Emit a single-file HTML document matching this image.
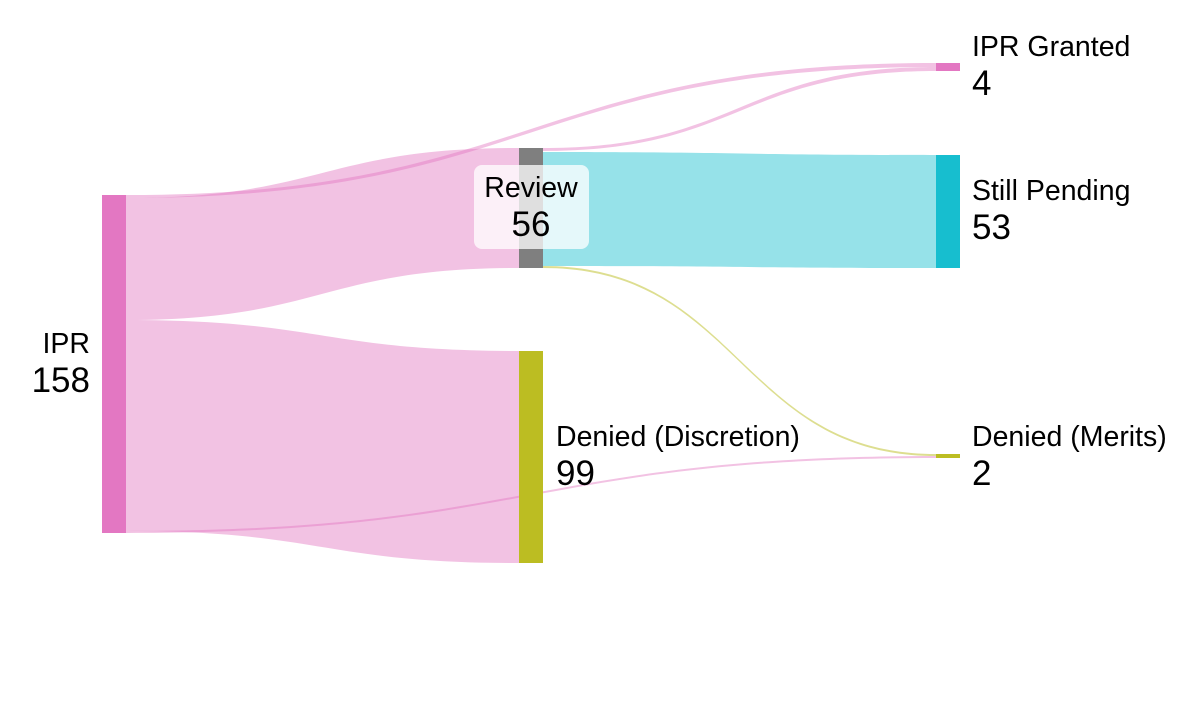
<!DOCTYPE html>
<html><head><style>
body{margin:0;background:#fff;}
svg text{font-family:"Liberation Sans",Arial,sans-serif;font-size:28.5px;fill:#000;}
svg text.n{font-size:35px;}
</style></head><body>
<svg width="1200" height="710" xmlns="http://www.w3.org/2000/svg">
<g fill="rgba(227,119,194,0.45)">
<path d="M126,195 C531,195 531,63 936,63 L936,67 C531,67 531,198 126,198 Z"/>
<path d="M126,198 C322,198 322,148 519,148 L519,268 C322,268 322,320 126,320 Z"/>
<path d="M126,320 C322,320 322,351 519,351 L519,563 C322,563 322,531 126,531 Z"/>
<path d="M126,531 C531,531 531,456 936,456 L936,458 C531,458 531,533 126,533 Z"/>
<path d="M543,148 C740,148 740,67 936,67 L936,71 C740,71 740,151 543,151 Z"/>
</g>
<path d="M543,152 C740,152 740,155 936,155 L936,268 C740,268 740,266 543,266 Z" fill="rgba(23,190,207,0.45)"/>
<path d="M543,266 C740,266 740,454 936,454 L936,456 C740,456 740,268 543,268 Z" fill="rgba(188,189,34,0.5)"/>
<rect x="102" y="195" width="24" height="338" fill="#e377c2"/>
<rect x="519" y="148" width="24" height="120" fill="#7f7f7f"/>
<rect x="519" y="351" width="24" height="212" fill="#bcbd22"/>
<rect x="936" y="63" width="24" height="8" fill="#e377c2"/>
<rect x="936" y="155" width="24" height="113" fill="#17becf"/>
<rect x="936" y="454" width="24" height="4" fill="#bcbd22"/>
<rect x="474" y="165" width="115" height="84" rx="8" fill="rgba(255,255,255,0.75)"/>
<text x="531" y="197" text-anchor="middle">Review</text>
<text x="531" y="236" text-anchor="middle" class="n">56</text>
<text x="90" y="353" text-anchor="end">IPR</text>
<text x="90" y="392" text-anchor="end" class="n">158</text>
<text x="556" y="446">Denied (Discretion)</text>
<text x="556" y="485" class="n">99</text>
<text x="972" y="56">IPR Granted</text>
<text x="972" y="95" class="n">4</text>
<text x="972" y="200">Still Pending</text>
<text x="972" y="239" class="n">53</text>
<text x="972" y="446">Denied (Merits)</text>
<text x="972" y="485" class="n">2</text>
</svg>
</body></html>
